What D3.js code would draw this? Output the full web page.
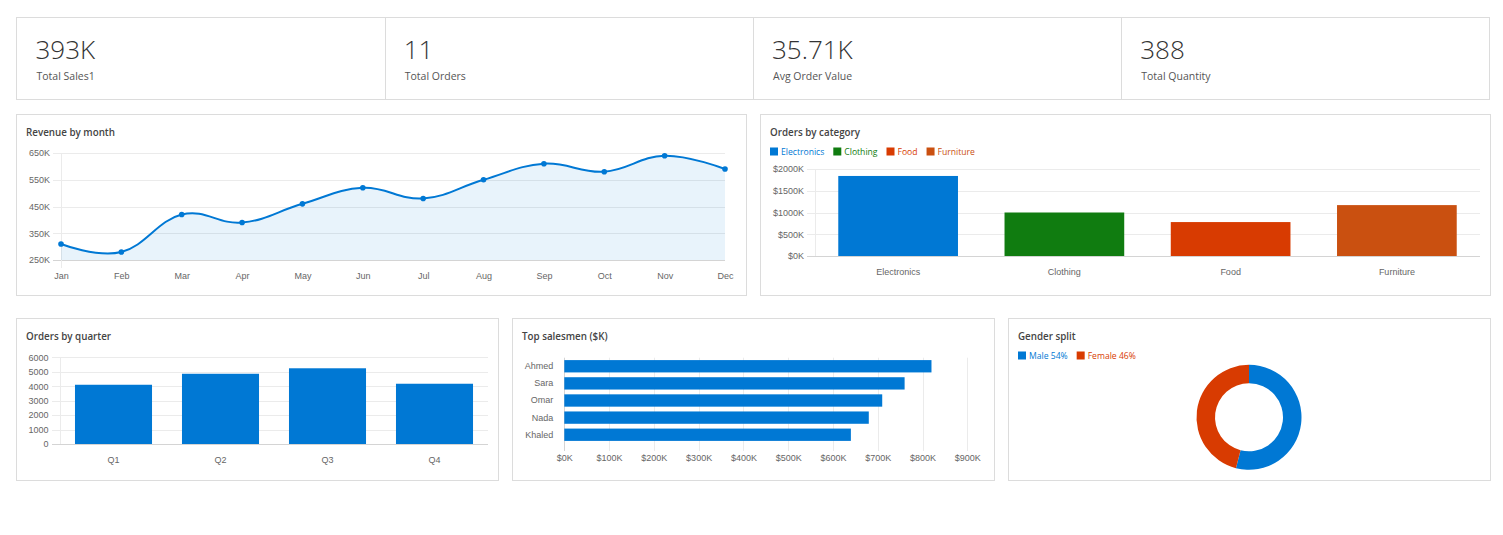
<!DOCTYPE html>
<html>
<head>
<meta charset="utf-8">
<script src="https://cdn.jsdelivr.net/npm/d3@7"></script>
<style>
  body { margin: 0; background: #fff; }
  svg { display: block; }
  .ui { font-family: "Open Sans", "Noto Sans", sans-serif; }
  .tick text, .axis-label { font-family: "Liberation Sans", Arial, sans-serif; font-size: 9px; fill: #666; }
</style>
</head>
<body>
<script>
"use strict";

// KPI strip
var kpiValues = ["393K", "11", "35.71K", "388"];
var kpiLabels = ["Total Sales1", "Total Orders", "Avg Order Value", "Total Quantity"];

// revenue by month, K
var months = ["Jan", "Feb", "Mar", "Apr", "May", "Jun", "Jul", "Aug", "Sep", "Oct", "Nov", "Dec"];
var revenue = [310, 280, 420, 390, 460, 520, 480, 550, 610, 580, 640, 590];
var revenueTicks = [250, 350, 450, 550, 650];

// orders by category, $K
var categories = ["Electronics", "Clothing", "Food", "Furniture"];
var categoryValues = [1840, 1000, 780, 1170];
var categoryColors = ["#0078d4", "#107c10", "#d83b01", "#ca5010"];
var categoryTicks = [0, 500, 1000, 1500, 2000];

// orders by quarter
var quarters = ["Q1", "Q2", "Q3", "Q4"];
var quarterOrders = [4100, 4860, 5240, 4170];
var quarterTicks = [0, 1000, 2000, 3000, 4000, 5000, 6000];

// top salesmen, $K
var salesmen = ["Ahmed", "Sara", "Omar", "Nada", "Khaled"];
var salesValues = [820, 760, 710, 680, 640];
var salesTicks = [0, 100, 200, 300, 400, 500, 600, 700, 800, 900];

// gender split, %
var genders = ["Male", "Female"];
var genderShare = [54, 46];
var genderColors = ["#0078d4", "#d83b01"];

var blue = "#0078d4";
var gridColor = "#ebebeb";
var axisColor = "#d4d4d4";

var svg = d3.select("body").append("svg")
    .attr("width", 1503)
    .attr("height", 535);

// KPI box
var kpiBox = {x: 16.5, y: 17.5, w: 1473, h: 82};
var kpiW = kpiBox.w / kpiValues.length;
svg.append("rect")
    .attr("x", kpiBox.x).attr("y", kpiBox.y)
    .attr("width", kpiBox.w).attr("height", kpiBox.h)
    .attr("fill", "#fff").attr("stroke", "#dcdcdc");
kpiValues.forEach(function(v, i) {
  var x0 = kpiBox.x + i * kpiW;
  if (i > 0) {
    svg.append("line")
        .attr("x1", Math.round(x0) + 0.5).attr("x2", Math.round(x0) + 0.5)
        .attr("y1", kpiBox.y).attr("y2", kpiBox.y + kpiBox.h)
        .attr("stroke", "#dcdcdc");
  }
  svg.append("text").attr("class", "ui")
      .attr("x", x0 + 19).attr("y", 58.5)
      .attr("font-size", 26).attr("font-weight", 300)
      .attr("fill", "#333")
      .text(v);
  svg.append("text").attr("class", "ui")
      .attr("x", x0 + 20).attr("y", 79.5)
      .attr("font-size", 10.5)
      .attr("fill", "#555")
      .text(kpiLabels[i]);
});

function card(x, y, w, h, title) {
  svg.append("rect")
      .attr("x", x + 0.5).attr("y", y + 0.5)
      .attr("width", w).attr("height", h)
      .attr("fill", "#fff").attr("stroke", "#dcdcdc");
  svg.append("text").attr("class", "ui")
      .attr("x", x + 10).attr("y", y + 22)
      .attr("font-size", 9.8).attr("font-weight", 600)
      .attr("fill", "#444")
      .text(title);
}

function legend(x, y, names, colors) {
  var cx = x;
  names.forEach(function(n, i) {
    svg.append("rect")
        .attr("x", cx).attr("y", y - 4)
        .attr("width", 8).attr("height", 8)
        .attr("fill", colors[i]);
    var t = svg.append("text").attr("class", "ui")
        .attr("x", cx + 11).attr("y", y + 3)
        .attr("font-size", 8.6)
        .attr("fill", colors[i])
        .text(n);
    cx += 11 + t.node().getComputedTextLength() + 9;
  });
}

function styleAxis(g) {
  g.select(".domain").remove();
  g.selectAll(".tick line").remove();
}

// ---------- Revenue by month ----------
card(16, 114, 730, 181, "Revenue by month");

var xRev = d3.scalePoint().domain(months).range([61, 725]);
var yRev = d3.scaleLinear().domain([250, 650]).range([260, 153]);

svg.append("g").selectAll("line")
  .data(revenueTicks)
  .join("line")
    .attr("x1", 53).attr("x2", 725)
    .attr("y1", function(d) { return Math.round(yRev(d)) + 0.5; })
    .attr("y2", function(d) { return Math.round(yRev(d)) + 0.5; })
    .attr("stroke", function(d) { return d === 250 ? axisColor : gridColor; });
svg.append("line")
    .attr("x1", 61.5).attr("x2", 61.5).attr("y1", 153).attr("y2", 268)
    .attr("stroke", gridColor);

var area = d3.area()
    .x(function(d, i) { return xRev(months[i]); })
    .y0(yRev(250))
    .y1(function(d) { return yRev(d); })
    .curve(d3.curveCardinal.tension(-0.2));
var line = d3.line()
    .x(function(d, i) { return xRev(months[i]); })
    .y(function(d) { return yRev(d); })
    .curve(d3.curveCardinal.tension(-0.2));

svg.append("path").datum(revenue)
    .attr("d", area)
    .attr("fill", "rgba(0,120,212,0.09)");
svg.append("path").datum(revenue)
    .attr("d", line)
    .attr("fill", "none")
    .attr("stroke", blue)
    .attr("stroke-width", 2);
svg.append("g").selectAll("circle")
  .data(revenue)
  .join("circle")
    .attr("cx", function(d, i) { return xRev(months[i]); })
    .attr("cy", function(d) { return yRev(d); })
    .attr("r", 2.8)
    .attr("fill", blue);

svg.append("g")
    .attr("transform", "translate(61,0)")
    .call(d3.axisLeft(yRev).tickValues(revenueTicks).tickSize(0).tickPadding(11)
      .tickFormat(function(d) { return d + "K"; }))
    .call(styleAxis);
svg.append("g")
    .attr("transform", "translate(0,260)")
    .call(d3.axisBottom(xRev).tickSize(0).tickPadding(13))
    .call(styleAxis);

// ---------- Orders by category ----------
card(760, 114, 730, 181, "Orders by category");
legend(770, 151.5, categories, categoryColors);

var xCat = d3.scaleBand().domain(categories).range([815, 1480])
    .paddingInner(0.28).paddingOuter(0.14);
var yCat = d3.scaleLinear().domain([0, 2000]).range([256, 169]);

svg.append("g").selectAll("line")
  .data(categoryTicks)
  .join("line")
    .attr("x1", 807).attr("x2", 1480)
    .attr("y1", function(d) { return Math.round(yCat(d)) + 0.5; })
    .attr("y2", function(d) { return Math.round(yCat(d)) + 0.5; })
    .attr("stroke", function(d) { return d === 0 ? axisColor : gridColor; });
svg.append("line")
    .attr("x1", 815.5).attr("x2", 815.5).attr("y1", 169).attr("y2", 256)
    .attr("stroke", gridColor);

svg.append("g").selectAll("rect")
  .data(categoryValues)
  .join("rect")
    .attr("x", function(d, i) { return xCat(categories[i]); })
    .attr("width", xCat.bandwidth())
    .attr("y", function(d) { return yCat(d); })
    .attr("height", function(d) { return yCat(0) - yCat(d); })
    .attr("fill", function(d, i) { return categoryColors[i]; });

svg.append("g")
    .attr("transform", "translate(815,0)")
    .call(d3.axisLeft(yCat).tickValues(categoryTicks).tickSize(0).tickPadding(11)
      .tickFormat(function(d) { return "$" + d + "K"; }))
    .call(styleAxis);
svg.append("g")
    .attr("transform", "translate(0,256)")
    .call(d3.axisBottom(xCat).tickSize(0).tickPadding(12.5))
    .call(styleAxis);

// ---------- Orders by quarter ----------
card(16, 318, 482, 162, "Orders by quarter");

var xQ = d3.scaleBand().domain(quarters).range([60, 488])
    .paddingInner(0.28).paddingOuter(0.14);
var yQ = d3.scaleLinear().domain([0, 6000]).range([444, 357.3]);

svg.append("g").selectAll("line")
  .data(quarterTicks)
  .join("line")
    .attr("x1", 52).attr("x2", 488)
    .attr("y1", function(d) { return Math.round(yQ(d)) + 0.5; })
    .attr("y2", function(d) { return Math.round(yQ(d)) + 0.5; })
    .attr("stroke", function(d) { return d === 0 ? axisColor : gridColor; });
svg.append("line")
    .attr("x1", 60.5).attr("x2", 60.5).attr("y1", 357).attr("y2", 444)
    .attr("stroke", gridColor);

svg.append("g").selectAll("rect")
  .data(quarterOrders)
  .join("rect")
    .attr("x", function(d, i) { return xQ(quarters[i]); })
    .attr("width", xQ.bandwidth())
    .attr("y", function(d) { return yQ(d); })
    .attr("height", function(d) { return yQ(0) - yQ(d); })
    .attr("fill", blue);

svg.append("g")
    .attr("transform", "translate(60,0)")
    .call(d3.axisLeft(yQ).tickValues(quarterTicks).tickSize(0).tickPadding(11.5)
      .tickFormat(d3.format("d")))
    .call(styleAxis);
svg.append("g")
    .attr("transform", "translate(0,444)")
    .call(d3.axisBottom(xQ).tickSize(0).tickPadding(12.5))
    .call(styleAxis);

// ---------- Top salesmen ----------
card(512, 318, 482, 162, "Top salesmen ($K)");

var xS = d3.scaleLinear().domain([0, 900]).range([564.3, 967.3]);
var yS = d3.scaleBand().domain(salesmen).range([357.7, 443.3])
    .paddingInner(0.28).paddingOuter(0.14);

svg.append("g").selectAll("line")
  .data(salesTicks)
  .join("line")
    .attr("x1", function(d) { return Math.round(xS(d)) + 0.5; })
    .attr("x2", function(d) { return Math.round(xS(d)) + 0.5; })
    .attr("y1", 357.7).attr("y2", 451)
    .attr("stroke", function(d) { return d === 0 ? axisColor : gridColor; });

svg.append("g").selectAll("rect")
  .data(salesValues)
  .join("rect")
    .attr("x", xS(0))
    .attr("y", function(d, i) { return yS(salesmen[i]); })
    .attr("height", yS.bandwidth())
    .attr("width", function(d) { return xS(d) - xS(0); })
    .attr("fill", blue);

svg.append("g")
    .attr("transform", "translate(564.3,0)")
    .call(d3.axisLeft(yS).tickSize(0).tickPadding(11))
    .call(styleAxis);
svg.append("g")
    .attr("transform", "translate(0,443.3)")
    .call(d3.axisBottom(xS).tickValues(salesTicks).tickSize(0).tickPadding(11.5)
      .tickFormat(function(d) { return "$" + d + "K"; }))
    .call(styleAxis);

// ---------- Gender split ----------
card(1008, 318, 482, 162, "Gender split");
legend(1018, 355.5, genders.map(function(g, i) { return g + " " + genderShare[i] + "%"; }), genderColors);

var pie = d3.pie().sort(null).value(function(d) { return d; });
var arc = d3.arc().innerRadius(34).outerRadius(52.5);
svg.append("g")
    .attr("transform", "translate(1249,417.3)")
  .selectAll("path")
  .data(pie(genderShare))
  .join("path")
    .attr("d", arc)
    .attr("fill", function(d, i) { return genderColors[i]; });
</script>
</body>
</html>
